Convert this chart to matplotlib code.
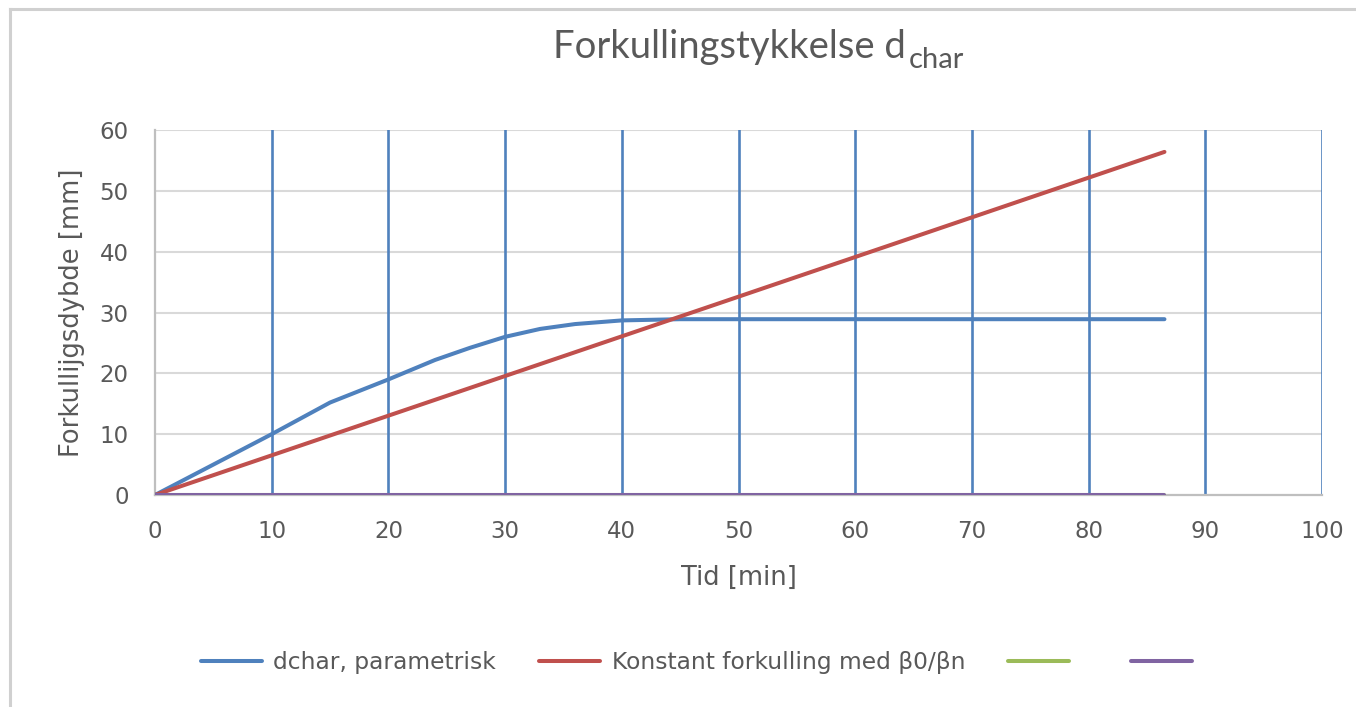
import matplotlib
matplotlib.use("Agg")
import matplotlib.pyplot as plt
from matplotlib.lines import Line2D

# ---- data ----
t_param = [0, 5, 10, 15, 20, 24, 27, 30, 33, 36, 40, 45, 86.5]
d_param = [0, 5.0, 10.0, 15.2, 19.0, 22.2, 24.2, 26.0, 27.3, 28.1, 28.7, 28.9, 28.9]

t_const = [0, 86.5]
d_const = [0, 56.4]

t_zero = [0, 86.5]
d_green = [0, 0]
d_purple = [0, 0]

labels = ["dchar, parametrisk", "Konstant forkulling med β0/βn", " ", " "]
x_ticks = [0, 10, 20, 30, 40, 50, 60, 70, 80, 90, 100]
y_ticks = [0, 10, 20, 30, 40, 50, 60]

title_main = "Forkullingstykkelse d"
title_sub = "char"
xlabel = "Tid [min]"
ylabel = "Forkullijgsdybde [mm]"

# ---- styling ----
FONT = ["DejaVu Sans"]
TITLE_FONT = ["Lato", "DejaVu Sans"]
plt.rcParams["font.family"] = FONT
TXT = "#595959"
BLUE = "#4F81BD"
RED = "#C0504D"
GREEN = "#9BBB59"
PURPLE = "#8064A2"

W, H = 1356, 707
fig = plt.figure(figsize=(W / 100, H / 100), dpi=100)
ax = fig.add_axes([155 / W, 1 - 495 / H, (1322 - 155) / W, (495 - 130) / H])

ax.set_xlim(0, 100)
ax.set_ylim(0, 60)
ax.set_xticks(x_ticks)
ax.set_yticks(y_ticks)

# gridlines
for y in y_ticks[1:]:
    ax.axhline(y, color="#D9D9D9", lw=1.5, zorder=1)
for x in x_ticks[1:]:
    ax.axvline(x, color=BLUE, lw=1.9, zorder=1)

ax.plot(t_param, d_param, color=BLUE, lw=2.9, solid_capstyle="round",
        solid_joinstyle="round", zorder=3, label=labels[0])
ax.plot(t_const, d_const, color=RED, lw=2.9, solid_capstyle="round", zorder=3, label=labels[1])
ax.plot(t_zero, d_green, color=GREEN, lw=2.9, solid_capstyle="round", zorder=3, label=labels[2])
ax.plot(t_zero, d_purple, color=PURPLE, lw=2.9, solid_capstyle="round", zorder=4, label=labels[3])

for s in ["top", "right"]:
    ax.spines[s].set_visible(False)
for s in ["left", "bottom"]:
    ax.spines[s].set_color("#BFBFBF")
    ax.spines[s].set_linewidth(1.6)

ax.tick_params(axis="both", length=0, labelsize=16.5, labelcolor=TXT)
ax.tick_params(axis="y", pad=19)
ax.tick_params(axis="x", pad=18)

ax.set_xlabel(xlabel, fontsize=18.5, color=TXT)
ax.set_ylabel(ylabel, fontsize=18.5, color=TXT)
ax.xaxis.set_label_coords(0.5, (495 - 578) / 365)
ax.xaxis.label.set_verticalalignment("center")
ax.yaxis.set_label_coords((72 - 155) / 1167, 0.5)
ax.yaxis.label.set_verticalalignment("center")

# title: main part + subscript placed right after it
t1 = fig.text(553 / W, 1 - 58 / H, title_main, fontsize=27.5, color=TXT,
              family=TITLE_FONT, ha="left", va="baseline")
fig.canvas.draw()
bb = t1.get_window_extent(renderer=fig.canvas.get_renderer())
fig.text((bb.x1 + 3) / W, 1 - 68 / H, title_sub, fontsize=21, color=TXT,
         family=TITLE_FONT, ha="left", va="baseline")

handles = ax.get_lines()[-4:]
leg = fig.legend(handles, labels, loc="center", bbox_to_anchor=(706 / W, 1 - 663 / H),
                 ncol=4, frameon=False, fontsize=16.8, handlelength=2.6,
                 columnspacing=1.85, handletextpad=0.5)
for txt in leg.get_texts():
    txt.set_color(TXT)

# chart area border (left and top)
fig.add_artist(Line2D([10 / W, 10 / W], [0, 1 - 9 / H], transform=fig.transFigure,
                      color="#D0D0D0", lw=2.2))
fig.add_artist(Line2D([10 / W, 1], [1 - 9 / H, 1 - 9 / H], transform=fig.transFigure,
                      color="#D0D0D0", lw=2.2))

fig.savefig("out.png", dpi=100)
